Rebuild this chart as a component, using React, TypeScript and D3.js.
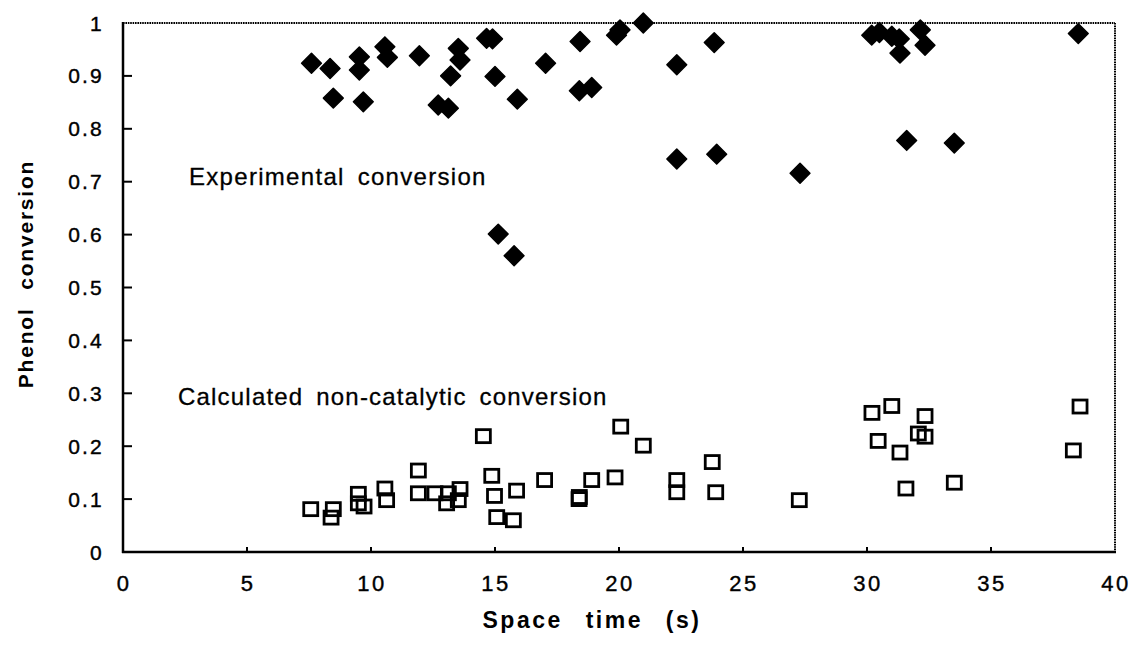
import React from 'react';
import * as d3 from 'd3';

// Experimental conversion (filled diamonds)
const expTime = [7.6, 8.35, 8.48, 9.53, 9.53, 9.69, 10.56, 10.66, 11.95, 12.71, 13.12, 13.21, 13.52, 13.59,
  14.66, 14.9, 15.0, 15.13, 15.77, 15.9, 17.04, 18.43, 18.4, 18.9, 19.9, 20.04, 20.98, 22.33, 22.33,
  23.84, 23.94, 27.3, 30.19, 30.5, 31.0, 31.3, 31.33, 32.15, 32.34, 31.6, 33.52, 38.52];
const expConv = [0.924, 0.914, 0.858, 0.936, 0.911, 0.851, 0.955, 0.935, 0.938, 0.845, 0.839, 0.9, 0.952, 0.93,
  0.971, 0.97, 0.899, 0.601, 0.56, 0.856, 0.924, 0.965, 0.872, 0.878, 0.977, 0.987, 1.0, 0.921, 0.743,
  0.963, 0.752, 0.716, 0.977, 0.982, 0.975, 0.97, 0.943, 0.987, 0.958, 0.778, 0.773, 0.98];

// Calculated non-catalytic conversion (open squares)
const calcTime = [7.57, 8.48, 8.39, 9.49, 9.49, 9.72, 10.56, 10.63, 11.91, 11.91, 12.58, 13.05, 13.12, 13.52,
  13.59, 14.53, 14.87, 14.98, 15.07, 15.74, 15.87, 17.0, 18.39, 18.4, 18.9, 19.84, 20.07, 20.98, 22.33,
  22.33, 23.76, 23.9, 27.27, 30.2, 30.45, 31.0, 31.33, 31.57, 32.07, 32.34, 32.34, 33.52, 38.32, 38.59];
const calcConv = [0.081, 0.081, 0.065, 0.11, 0.092, 0.086, 0.12, 0.098, 0.154, 0.111, 0.111, 0.092, 0.111, 0.098,
  0.119, 0.219, 0.144, 0.106, 0.066, 0.06, 0.116, 0.136, 0.1, 0.104, 0.136, 0.141, 0.237, 0.201, 0.136,
  0.113, 0.17, 0.113, 0.098, 0.263, 0.21, 0.276, 0.188, 0.12, 0.224, 0.257, 0.218, 0.131, 0.192, 0.275];

const xTicks = [0, 5, 10, 15, 20, 25, 30, 35, 40];
const yTicks = [0, 0.1, 0.2, 0.3, 0.4, 0.5, 0.6, 0.7, 0.8, 0.9, 1];

const W = 1135;
const H = 646;
const left = 123, right = 1115, top = 23, bottom = 552;
const font = '"Liberation Sans", Arial, Helvetica, sans-serif';

export default function App() {
  const x = d3.scaleLinear().domain([0, 40]).range([left, right]);
  const y = d3.scaleLinear().domain([0, 1]).range([bottom, top]);
  const diamond = d3.symbol(d3.symbolSquare, 14 * 14)();

  return (
    <svg width={W} height={H} style={{ position: 'absolute', left: 0, top: 0, background: '#fff' }}>
      {/* frame: dotted top/right, solid axes */}
      <line x1={left} x2={right} y1={top} y2={top} stroke="#000" strokeWidth={2} strokeDasharray="1.6,0.8" />
      <line x1={right} x2={right} y1={top} y2={bottom} stroke="#000" strokeWidth={2} strokeDasharray="1.6,0.8" />
      <line x1={left} x2={left} y1={top - 1} y2={bottom + 1} stroke="#000" strokeWidth={2.5} />
      <line x1={left - 1} x2={right + 1} y1={bottom} y2={bottom} stroke="#000" strokeWidth={2.5} />

      {yTicks.map(t => (
        <g key={'y' + t}>
          {t > 0 && t < 1 && <line x1={left} x2={left + 9} y1={y(t)} y2={y(t)} stroke="#000" strokeWidth={2} />}
          <text x={left - 19} y={y(t)} dy="0.36em" textAnchor="end" fontFamily={font} fontSize={21}
            letterSpacing={2.2} stroke="#000" strokeWidth={0.4}>{d3.format('')(t)}</text>
        </g>
      ))}
      {xTicks.map(t => (
        <g key={'x' + t}>
          {t > 0 && t < 40 && <line x1={x(t)} x2={x(t)} y1={bottom} y2={bottom - 5} stroke="#000" strokeWidth={2} />}
          <text x={x(t) + 1} y={bottom + 39} textAnchor="middle" fontFamily={font} fontSize={22}
            letterSpacing={2.5} stroke="#000" strokeWidth={0.4}>{t}</text>
        </g>
      ))}

      <text x={592} y={bottom + 76} textAnchor="middle" fontFamily={font}
        fontSize={23} fontWeight="bold" letterSpacing={2.5} wordSpacing={14}>Space time (s)</text>
      <text transform={`translate(25,274) rotate(-90)`} dy="0.36em" textAnchor="middle"
        fontFamily={font} fontSize={21} fontWeight="bold" letterSpacing={1.8} wordSpacing={10}>Phenol conversion</text>

      <text x={189} y={185} fontFamily={font} fontSize={24} letterSpacing={1.3}
        wordSpacing={5} stroke="#000" strokeWidth={0.3}>Experimental conversion</text>
      <text x={178} y={405} fontFamily={font} fontSize={24} letterSpacing={1.2}
        wordSpacing={5} stroke="#000" strokeWidth={0.3}>Calculated non-catalytic conversion</text>

      {expTime.map((t, i) => (
        <path key={'e' + i} d={diamond} transform={`translate(${x(t)},${y(expConv[i])}) rotate(45)`}
          fill="#000" stroke="#000" strokeWidth={1.5} strokeLinejoin="round" />
      ))}
      {calcTime.map((t, i) => (
        <rect key={'c' + i} x={x(t) - 7} y={y(calcConv[i]) - 6.5} width={14} height={13}
          fill="none" stroke="#000" strokeWidth={2.8} />
      ))}
    </svg>
  );
}
